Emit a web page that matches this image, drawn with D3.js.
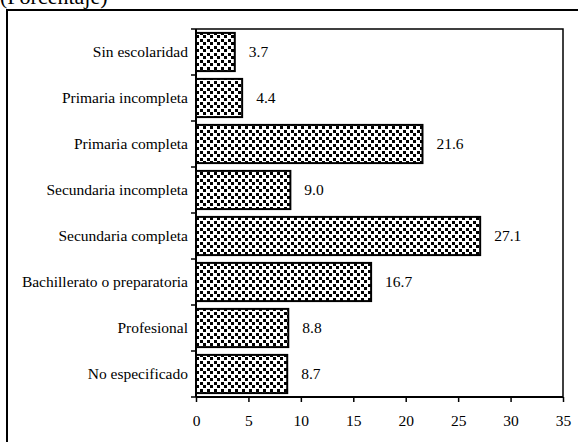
<!DOCTYPE html>
<html>
<head>
<meta charset="utf-8">
<script src="https://cdn.jsdelivr.net/npm/d3@7/dist/d3.min.js"></script>
<style>
  html, body { margin: 0; padding: 0; background: #fff; }
  svg { display: block; }
  text { font-family: "Liberation Serif", "Times New Roman", serif; fill: #000; }
</style>
</head>
<body>
<script>
// ---- data ----
const categories = [
  "Sin escolaridad",
  "Primaria incompleta",
  "Primaria completa",
  "Secundaria incompleta",
  "Secundaria completa",
  "Bachillerato o preparatoria",
  "Profesional",
  "No especificado"
];
const values = [3.7, 4.4, 21.6, 9.0, 27.1, 16.7, 8.8, 8.7];
const xTicks = [0, 5, 10, 15, 20, 25, 30, 35];
const unitLabel = "(Porcentaje)";

// ---- layout ----
const W = 578, H = 442;
const plot = { left: 196, right: 563, top: 29, bottom: 397 };
const FS = 15.5;

const svg = d3.select("body").append("svg")
  .attr("width", W).attr("height", H);

// pattern
const defs = svg.append("defs");
const pat = defs.append("pattern")
  .attr("id", "dots").attr("patternUnits", "userSpaceOnUse")
  .attr("width", 7).attr("height", 7);
pat.append("rect").attr("width", 7).attr("height", 7).attr("fill", "#fff");
pat.append("rect").attr("x", 0).attr("y", 0).attr("width", 3).attr("height", 3).attr("fill", "#000");
pat.append("rect").attr("x", 4).attr("y", 4).attr("width", 3).attr("height", 3).attr("fill", "#000");

// outer box
svg.append("rect")
  .attr("x", 7).attr("y", 10).attr("width", 620).attr("height", 500)
  .attr("fill", "none").attr("stroke", "#000").attr("stroke-width", 2);

// title (partially cut off, as in the reference)
svg.append("text")
  .attr("x", 0).attr("y", 4)
  .attr("font-size", 22)
  .text(unitLabel);

const x = d3.scaleLinear().domain([0, 35]).range([plot.left, plot.right]);
const y = d3.scaleBand().domain(categories).range([plot.top, plot.bottom])
  .paddingInner(0.17).paddingOuter(0.085);

// plot frame (top & right)
svg.append("path")
  .attr("d", `M${plot.left},${plot.top}H${plot.right}V${plot.bottom}`)
  .attr("fill", "none").attr("stroke", "#000").attr("stroke-width", 1.5);

// bars
svg.append("g").selectAll("rect")
  .data(values)
  .join("rect")
  .attr("x", x(0))
  .attr("y", (d, i) => y(categories[i]))
  .attr("width", d => x(d) - x(0))
  .attr("height", y.bandwidth())
  .attr("fill", "url(#dots)")
  .attr("stroke", "#000").attr("stroke-width", 2);

// value labels
svg.append("g").selectAll("text")
  .data(values)
  .join("text")
  .attr("x", d => x(d) + 14)
  .attr("y", (d, i) => y(categories[i]) + y.bandwidth() / 2)
  .attr("dy", "0.35em")
  .attr("font-size", FS)
  .text(d => d.toFixed(1));

// y axis (band boundaries as ticks)
const yAxisG = svg.append("g");
yAxisG.append("line")
  .attr("x1", plot.left).attr("x2", plot.left)
  .attr("y1", plot.top).attr("y2", plot.bottom)
  .attr("stroke", "#000").attr("stroke-width", 2);
const step = (plot.bottom - plot.top) / categories.length;
yAxisG.selectAll("line.tk")
  .data(d3.range(categories.length + 1))
  .join("line").attr("class", "tk")
  .attr("x1", plot.left - 5).attr("x2", plot.left)
  .attr("y1", i => plot.top + i * step).attr("y2", i => plot.top + i * step)
  .attr("stroke", "#000").attr("stroke-width", 1.5);
yAxisG.selectAll("text")
  .data(categories)
  .join("text")
  .attr("x", plot.left - 8)
  .attr("y", d => y(d) + y.bandwidth() / 2)
  .attr("dy", "0.35em")
  .attr("text-anchor", "end")
  .attr("font-size", FS)
  .text(d => d);

// x axis
const xAxis = d3.axisBottom(x).tickValues(xTicks).tickSize(5).tickPadding(13)
  .tickFormat(d3.format("d"));
const xg = svg.append("g")
  .attr("transform", `translate(0,${plot.bottom})`)
  .call(xAxis);
xg.select(".domain").attr("stroke", "#000").attr("stroke-width", 2)
  .attr("d", `M${plot.left},0H${plot.right}`);
xg.selectAll(".tick line").attr("stroke", "#000").attr("stroke-width", 1.5);
xg.selectAll(".tick text")
  .attr("font-size", FS)
  .attr("font-family", "Liberation Serif, Times New Roman, serif")
  .attr("fill", "#000");
</script>
</body>
</html>
